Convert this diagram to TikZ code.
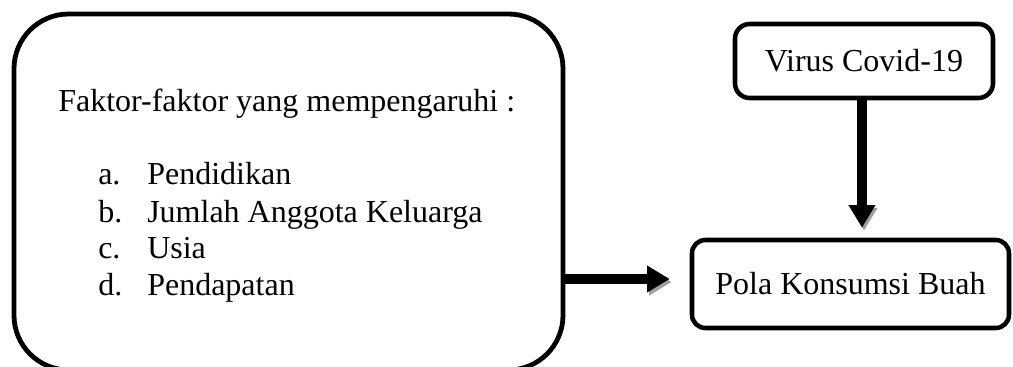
\documentclass[tikz,border=0pt]{standalone}
\usepackage{fontspec}
\setmainfont{Liberation Serif}
\usepackage{tikz}
\usetikzlibrary{shapes.geometric, arrows.meta}
\usetikzlibrary{positioning}

\begin{document}
\begin{tikzpicture}[x=0.75pt, y=-0.75pt, every node/.style={font=\fontsize{24}{27.6}\selectfont}]
\tikzstyle{bigbox} = [rectangle, rounded corners=41pt, minimum width=411.75pt, minimum height=267pt, draw=black, line width=3.6pt, inner sep=0pt]
\tikzstyle{process} = [rectangle, rounded corners=10pt, text centered, draw=black, line width=3.4pt, inner sep=0pt]
\tikzstyle{label} = [anchor=base west, inner sep=0pt]
\tikzstyle{arrow} = [line width=7pt, -{Triangle[length=17pt, width=19pt]}, preaction={draw=gray!75, transform canvas={shift={(1.5pt,-2.25pt)}}}]

\useasboundingbox (0,0) rectangle (1013,367);

% Nodes
\node (faktor) [bigbox] at (288.5,192) {};
\node (judul) [label] at (58,112) {Faktor-faktor yang mempengaruhi :};
\node (ia) [label] at (98,185) {a.};
\node (pendidikan) [label] at (147,185) {Pendidikan};
\node (ib) [label] at (98,222) {b.};
\node (anggota) [label] at (147,222) {Jumlah Anggota Keluarga};
\node (ic) [label] at (98,258.5) {c.};
\node (usia) [label] at (147,258.5) {Usia};
\node (id) [label] at (98,295) {d.};
\node (pendapatan) [label] at (147,295) {Pendapatan};
\node (virus) [process, minimum width=193.5pt, minimum height=55.5pt, rounded corners=11pt] at (864,61) {Virus Covid-19};
\node (pola) [process, minimum width=237.75pt, minimum height=66pt] at (850.5,284) {Pola Konsumsi Buah};

% Arrows
\draw [arrow, shorten >=7.5pt] (virus.south -| 862,0) -- (pola.north -| 862,0);
\draw [arrow, shorten >=15pt] ([yshift=3.75pt]faktor.east |- pola.west) -- ([yshift=3.75pt]pola.west);

\end{tikzpicture}
\end{document}
